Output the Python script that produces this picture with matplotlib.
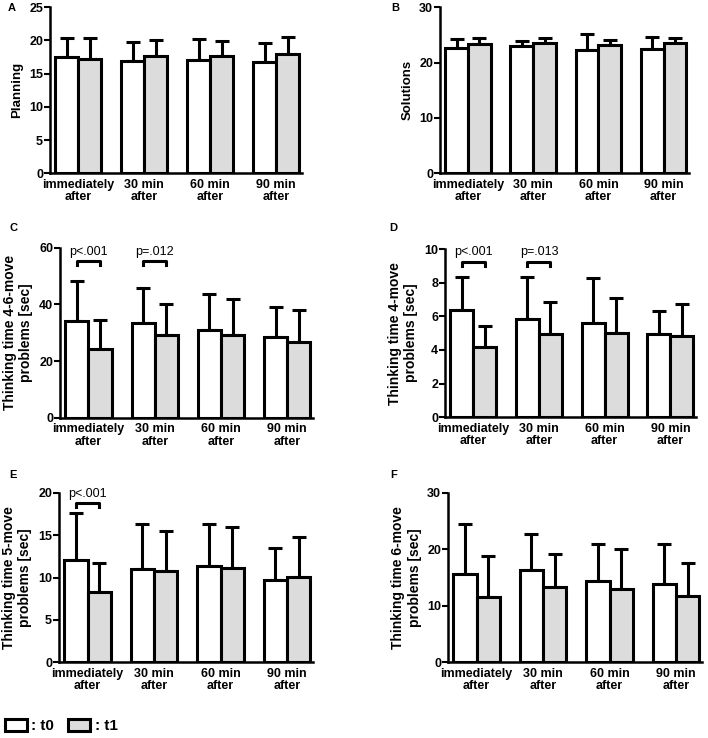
import numpy as np
import matplotlib.pyplot as plt
from matplotlib.patches import Patch

plt.rcParams['font.family'] = ['Liberation Sans', 'DejaVu Sans']

groups = ["immediately\nafter", "30 min\nafter", "60 min\nafter", "90 min\nafter"]

# panel A - Planning
plan_t0 = [17.5, 16.9, 17.0, 16.7]
plan_t0_sd = [2.9, 2.8, 3.3, 2.9]
plan_t1 = [17.2, 17.6, 17.6, 18.0]
plan_t1_sd = [3.2, 2.4, 2.3, 2.5]

# panel B - Solutions
sol_t0 = [22.6, 23.0, 22.3, 22.5]
sol_t0_sd = [1.6, 0.9, 2.8, 2.1]
sol_t1 = [23.4, 23.5, 23.1, 23.6]
sol_t1_sd = [1.0, 0.9, 0.9, 0.8]

# panel C - thinking time 4-6-move problems
tt46_t0 = [34.2, 33.3, 31.1, 28.4]
tt46_t0_sd = [14.2, 12.6, 12.4, 10.8]
tt46_t1 = [24.1, 29.1, 29.1, 26.7]
tt46_t1_sd = [10.5, 10.9, 12.8, 11.3]

# panel D - thinking time 4-move problems
tt4_t0 = [6.35, 5.82, 5.62, 4.97]
tt4_t0_sd = [2.0, 2.5, 2.68, 1.35]
tt4_t1 = [4.16, 4.92, 5.01, 4.81]
tt4_t1_sd = [1.28, 1.96, 2.06, 1.9]

# panel E - thinking time 5-move problems
tt5_t0 = [12.06, 11.04, 11.39, 9.67]
tt5_t0_sd = [5.58, 5.26, 4.88, 3.81]
tt5_t1 = [8.33, 10.77, 11.16, 10.06]
tt5_t1_sd = [3.34, 4.71, 4.75, 4.67]

# panel F - thinking time 6-move problems
tt6_t0 = [15.7, 16.3, 14.4, 13.85]
tt6_t0_sd = [8.7, 6.4, 6.6, 7.05]
tt6_t1 = [11.6, 13.4, 12.9, 11.7]
tt6_t1_sd = [7.2, 5.8, 7.1, 5.8]

panels = [
    ("A", "Planning", plan_t0, plan_t0_sd, plan_t1, plan_t1_sd, 25, 5, []),
    ("B", "Solutions", sol_t0, sol_t0_sd, sol_t1, sol_t1_sd, 30, 10, []),
    ("C", "Thinking time 4-6-move\nproblems [sec]", tt46_t0, tt46_t0_sd, tt46_t1, tt46_t1_sd, 60, 20,
     [(0, 55.3, "p<.001"), (1, 55.3, "p=.012")]),
    ("D", "Thinking time 4-move\nproblems [sec]", tt4_t0, tt4_t0_sd, tt4_t1, tt4_t1_sd, 10, 2,
     [(0, 9.24, "p<.001"), (1, 9.24, "p=.013")]),
    ("E", "Thinking time 5-move\nproblems [sec]", tt5_t0, tt5_t0_sd, tt5_t1, tt5_t1_sd, 20, 5,
     [(0, 18.74, "p<.001")]),
    ("F", "Thinking time 6-move\nproblems [sec]", tt6_t0, tt6_t0_sd, tt6_t1, tt6_t1_sd, 30, 10, []),
]

W, H = 708, 738
# axes boxes in pixels: left, right, top, bottom
boxes = [
    (50, 302, 7.3, 173.3),
    (440, 689, 7.3, 173.3),
    (60, 313, 247.7, 417.7),
    (445, 696, 249, 417.3),
    (59, 313, 492.7, 662.3),
    (448, 702, 492.7, 662.3),
]
letter_pos = [(8, 8), (391, 8), (9, 228), (389, 228), (9, 475), (390, 475)]

fig = plt.figure(figsize=(W / 100, H / 100), dpi=100)
lw = 2.2
bw = 0.35
gray = '#dcdcdc'

for (letter, ylab, t0, t0sd, t1, t1sd, ymax, ystep, brackets), (l, r, t, b), (lx, ly) in zip(panels, boxes, letter_pos):
    ax = fig.add_axes([l / W, 1 - b / H, (r - l) / W, (b - t) / H])
    x = np.arange(len(groups))
    ax.bar(x - bw / 2, t0, bw, color='white', edgecolor='black', linewidth=lw, zorder=3)
    ax.bar(x + bw / 2, t1, bw, color=gray, edgecolor='black', linewidth=lw, zorder=3)
    ax.errorbar(x - bw / 2, t0, yerr=[np.zeros(4), t0sd], fmt='none', ecolor='black',
                elinewidth=lw, capsize=5, capthick=lw, zorder=2, clip_on=False)
    ax.errorbar(x + bw / 2, t1, yerr=[np.zeros(4), t1sd], fmt='none', ecolor='black',
                elinewidth=lw, capsize=5, capthick=lw, zorder=2, clip_on=False)
    ax.set_xlim(-0.43, 3.39)
    ax.set_ylim(0, ymax)
    ax.set_yticks(np.arange(0, ymax + 0.01, ystep))
    ax.set_xticks(x)
    ax.set_xticklabels(groups, fontweight='bold', fontsize=9, linespacing=1.05)
    ax.tick_params(axis='x', length=0, pad=4)
    ax.tick_params(axis='y', length=4, width=1.5, pad=1, labelsize=9)
    for lab in ax.get_yticklabels():
        lab.set_fontweight('bold')
    for s in ['top', 'right']:
        ax.spines[s].set_visible(False)
    for s in ['left', 'bottom']:
        ax.spines[s].set_linewidth(1.8)
    ax.set_ylabel(ylab, fontweight='bold', fontsize=10 if '\n' in ylab else 9.5, labelpad=4)
    for gi, yb, txt in brackets:
        drop = ymax * 0.023
        ax.plot([gi - bw / 2, gi - bw / 2, gi + bw / 2, gi + bw / 2],
                [yb - drop, yb, yb, yb - drop], color='black', linewidth=lw,
                clip_on=False, zorder=4)
        ax.text(gi, yb + ymax * 0.02, txt, ha='center', va='bottom', fontsize=9, clip_on=False)
    fig.text(lx / W, 1 - ly / H, letter, fontweight='bold', fontsize=8, va='center', ha='left')

handles = [Patch(facecolor='white', edgecolor='black', linewidth=lw),
           Patch(facecolor=gray, edgecolor='black', linewidth=lw)]
fig.legend(handles, [': t0', ': t1'], loc='center left', bbox_to_anchor=(0.0, 1 - 726 / H),
           ncol=2, frameon=False, handlelength=1.45, handleheight=0.9, handletextpad=0.3,
           columnspacing=0.9, borderpad=0.0, borderaxespad=0.3,
           prop={'weight': 'bold', 'size': 11})

fig.savefig('out.png', dpi=100)
